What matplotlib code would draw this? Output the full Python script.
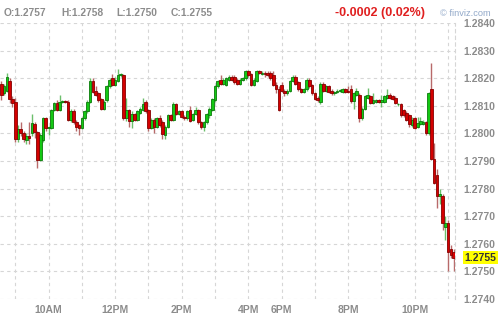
import numpy as np
import pandas as pd
import matplotlib
matplotlib.use("Agg")
import matplotlib.pyplot as plt

# 5-minute candles, prices given in pips above BASE
BASE = 1.2800

session1 = pd.date_range("2016-01-05 08:35", "2016-01-05 16:55", freq="5min")
session2 = pd.date_range("2016-01-05 18:00", "2016-01-05 23:10", freq="5min")
times = session1.append(session2)

opens = [18, 14.5, 15.5, 19, 12.5, 11.5, -2, 1.5, 0, -2.5, -1, 0, 3.5, 0.5, -9.8, -2.5, 5.5, 2, 2, 8.5,
         11, 8.5, 11.5, 11.7, 11.5, 5, 8, 4, 3, 2, 5.5, 8, 11.5, 19, 15.5, 14.5, 12.5, 9, 12, 17,
         20, 17.5, 19, 21, 21, 5.5, 8.5, 4.5, 7, 5, 7.5, 8.5, 11.5, 8.5, 2, 5, 2.5, 5.5, 4, -0.5,
         2.5, 6.5, 5, 10.5, 7, 8, 6, 5.5, 8.5, 5, 7, 8.5, 4, 2.5, 4, 6.5, 8.5, 12, 17, 19.5,
         18, 17.5, 19.5, 20.5, 20.5, 19.5, 18, 19.5, 20, 22.5, 21.5, 17.5, 19, 22.5, 21.5, 22, 22, 22, 21, 17.5,
         16, 17.5, 15.5, 14.5, 15.5, 19, 20.5, 18.5, 16, 15, 16, 19.5, 17.5, 14.5, 13, 11.5, 18, 15.5, 17, 15.5,
         14.5, 15, 15.2, 15, 16, 15.5, 16, 11.8, 14, 14, 5.5, 9, 13, 13.5, 11, 11.5, 12, 11.5, 11.5, 13,
         14, 13.5, 13, 10.5, 10.8, 8.5, 7.5, 6.5, 3, 5.5, 2.5, 3.5, 3.5, 4, 0.2, 16, -9.2, -15, -22.5, -22.5,
         -34, -32.5, -42, -43]
highs = [19, 18, 22, 20, 13.5, 13, 3, 4, 1, 0, 4, 7, 4, 1, 0, 6, 6, 2.8, 9, 11.5,
         12, 14, 12, 12, 12, 9, 9, 5, 3.5, 6, 8.5, 12, 20, 20, 17, 15, 13, 12, 17.5, 20,
         21.5, 20.5, 23.5, 22, 21.5, 13, 9, 8, 7.5, 8.5, 9.5, 13, 12, 9, 5.5, 5.5, 6, 6.5, 5, 3,
         7, 7, 11.5, 11, 8.5, 8.5, 6.5, 8.5, 10, 7.5, 9.5, 9, 4.5, 4.5, 7.5, 9.5, 13, 17.5, 19.5, 21,
         20, 20.5, 21, 21, 21, 20, 20, 20.5, 23, 23, 22, 20, 23, 23, 22.5, 22.5, 22.5, 22.5, 22.5, 18.5,
         17, 18.5, 16, 16, 19.5, 21, 21, 19, 16.5, 16.5, 20, 20, 18, 15, 13.5, 18.5, 18.5, 17.5, 17.5, 16,
         15.5, 16, 16, 16.5, 16.5, 17, 17.5, 15, 16.5, 14.5, 9.5, 14, 16.5, 14, 14.5, 12.5, 12.5, 14, 14, 16,
         14.5, 14, 13.5, 11, 11, 8.8, 8, 7, 6, 6, 6, 6, 5, 4.5, 15, 25.5, -3.5, -13, -20, -22,
         -30, -31.5, -40.5, -42]
lows = [12, 14, 15, 11, 9.5, -3, -3, -1, -3, -4, -4, -1, -1.5, -12.5, -10, -3, 1, -0.5, 1.5, 8,
        8, 8, 11, 11, 4.5, 4, 3.5, 1, -0.5, 1.5, 5, 7.5, 11, 14.5, 13.5, 11.5, 8.5, 8.5, 11.5, 16.5,
        17, 17, 18.5, 20.5, 5, 4.5, 2.5, 2, 4.5, 4.5, 7, 8, 7.5, 1, 1.5, 0, 2, 2.5, -2, -2,
        2, 4.5, 4.5, 6.5, 6.5, 5.5, 5, 5, 4, 4.5, 6.5, 3.5, 1.5, 1, 3.5, 5.5, 8, 11.5, 16.5, 17.5,
        17.5, 17, 19, 19, 18, 17.5, 17.5, 19, 19.5, 20.5, 17, 17, 18.5, 21.5, 21, 20.5, 20.5, 19.5, 17, 14.5,
        8, 15, 13.5, 14, 15, 18.5, 17.5, 15.5, 14.5, 14.5, 15.5, 16.5, 14, 12, 11.5, 10.5, 15, 15, 14.5, 14,
        14, 14.5, 15, 14.5, 14.5, 14.5, 11, 9, 13.5, 4, 5, 8.5, 12.5, 10.5, 10.5, 11, 11, 9.5, 11, 12.5,
        12.5, 12, 10.5, 10, 6, 6, 4.5, 2.5, 2.5, 1.5, 2, 3, 3, -0.5, -0.5, -9.5, -18.5, -27, -25.5, -35,
        -38.5, -50, -45, -50]
closes = [14, 17, 20.5, 12.5, 11, -2, 1.5, 0, -2, -1, -1.5, 3.8, 0.5, -9.8, -0.5, 5.5, 2, 2.5, 8.5, 11,
          8.5, 11.5, 11.7, 11.3, 5, 8, 4, 2.5, 2, 5.5, 8, 11.5, 19, 15, 14, 12, 9, 11.5, 17, 19.5,
          17.5, 19.5, 21, 21.5, 5.5, 8.5, 4.5, 7, 5, 8, 9, 10.5, 8.2, 2, 5, 2.5, 5.5, 3, -0.2, 2.5,
          6.5, 5, 10.5, 7, 8, 6, 5.7, 8, 4.5, 7, 8.5, 4, 2.5, 4, 7, 9, 12.5, 17, 19, 18,
          19.5, 20, 20.5, 19.5, 18.5, 18, 19.5, 20, 22.5, 21, 17.5, 19.5, 22.5, 22, 22, 21.5, 21, 20, 17.5, 16,
          8.5, 15.5, 14.5, 15.5, 19, 20.5, 18, 16, 15, 16, 19.5, 17, 14.5, 12.5, 12, 18, 15.5, 17, 15, 14.5,
          15, 15.5, 15.8, 16, 15, 15, 11.8, 14.5, 15.5, 5.5, 8.8, 13.5, 14, 11, 12, 12, 11.5, 12, 13.5, 14,
          13, 12.5, 11, 10.8, 6.5, 6.5, 5, 3.5, 5, 2, 3.8, 4.5, 4.3, 0.2, 14.6, -9.2, -17.8, -22.5, -22, -32.5,
          -32.5, -43, -44, -45]

hour_names = {9: "", 10: "10AM", 11: "", 12: "12PM", 13: "", 14: "2PM", 15: "", 16: "4PM",
              18: "6PM", 19: "", 20: "8PM", 21: "", 22: "10PM", 23: ""}

o = BASE + np.array(opens) / 1e4
h = BASE + np.array(highs) / 1e4
l = BASE + np.array(lows) / 1e4
c = BASE + np.array(closes) / 1e4
x = np.arange(len(times))
up = c >= o

plt.rcParams['font.family'] = ['Liberation Sans', 'DejaVu Sans']

fig = plt.figure(figsize=(4.99, 3.21), dpi=100)
ax = fig.add_axes([0, 0.0685, 0.9118, 0.8598])

wick_col = np.where(up, '#6cbf6c', '#b86a6a')
ax.vlines(x, l, h, colors=wick_col, lw=1, zorder=2)

body_h = np.maximum(np.abs(c - o), 0.00003)
body_b = np.minimum(o, c)
ax.bar(x[up], body_h[up], bottom=body_b[up], width=0.95, color='#14c814',
       edgecolor='#0b7a0b', linewidth=0.6, zorder=3)
ax.bar(x[~up], body_h[~up], bottom=body_b[~up], width=0.95, color='#d40000',
       edgecolor='#850000', linewidth=0.6, zorder=3)

ax.set_xlim(-0.5, len(times) - 0.5)
ax.set_ylim(1.2740, 1.2840)

# hour grid
on_hour = np.where(times.minute == 0)[0]
ax.set_xticks(on_hour)
ax.set_xticklabels([hour_names[times[i].hour] for i in on_hour])
ax.set_yticks(np.arange(1.2740, 1.28401, 0.001))
ax.yaxis.set_major_formatter(matplotlib.ticker.FormatStrFormatter('%.4f'))
ax.yaxis.tick_right()
ax.tick_params(axis='both', length=0, labelsize=7.5, labelcolor='#8c8c8c')
ax.tick_params(axis='y', pad=6)
ax.tick_params(axis='x', pad=4)
for lab in ax.get_xticklabels() + ax.get_yticklabels():
    lab.set_fontweight('bold')

ax.grid(True, color='#d6d6d6', linestyle=(0, (3, 3)), lw=0.8, zorder=0)
for s in ['left', 'top', 'bottom']:
    ax.spines[s].set_visible(False)
ax.spines['right'].set_linestyle((0, (3, 3)))
ax.spines['right'].set_color('#d6d6d6')
ax.spines['right'].set_linewidth(0.8)

# last price marker
ax.text(1.02, c[-1], f"{c[-1]:.4f}", transform=ax.get_yaxis_transform(),
        ha='left', va='center', fontsize=7.5, fontweight='bold', color='#333333',
        bbox=dict(boxstyle='square,pad=0.15', fc='#ffff00', ec='none'))

# header
yh = 1 - 13 / 321
for xp, txt in [(4, f"O:{o[-1]:.4f}"), (61, f"H:{h[-1]:.4f}"),
                (116, f"L:{l[-1]:.4f}"), (171, f"C:{c[-1]:.4f}")]:
    fig.text(xp / 499, yh, txt, ha='left', va='center', fontsize=7.4,
             fontweight='bold', color='#8c8c8c')
fig.text(335 / 499, yh, "-0.0002 (0.02%)", ha='left', va='center', fontsize=9,
         fontweight='bold', color='#e02020')
fig.text(440 / 499, yh, "\u00a9 finviz.com", ha='left', va='center', fontsize=6.7,
         color='#92a9c9')

plt.savefig("out.png", dpi=100)
plt.close()
